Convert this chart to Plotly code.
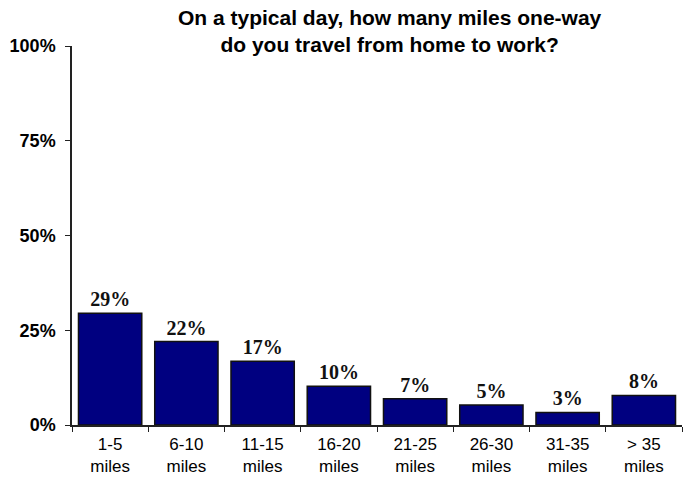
import plotly.graph_objects as go

categories = ["1-5<br>miles", "6-10<br>miles", "11-15<br>miles", "16-20<br>miles",
              "21-25<br>miles", "26-30<br>miles", "31-35<br>miles", "> 35<br>miles"]
values = [29.5, 22.0, 16.8, 10.2, 6.9, 5.3, 3.3, 7.8]
labels = ["<b>29%</b>", "<b>22%</b>", "<b>17%</b>", "<b>10%</b>", "<b>7%</b>", "<b>5%</b>", "<b>3%</b>", "<b>8%</b>"]
y_ticks = [0, 25, 50, 75, 100]
y_tick_text = ["0%", "25%", "50%", "75%", "100%"]

fig = go.Figure(go.Bar(
    x=categories, y=values, text=labels, textposition="outside",
    textfont=dict(family="Liberation Serif", size=20, color="#111"),
    marker=dict(color="#000080", line=dict(color="#111111", width=1.5)),
    cliponaxis=False,
))

fig.update_layout(
    width=686, height=483,
    margin=dict(l=72, r=4, t=46, b=58),
    plot_bgcolor="white", paper_bgcolor="white",
    bargap=0.17,
    showlegend=False,
    annotations=[dict(
        text="<b>On a typical day, how many miles one-way<br>do you travel from home to work?</b>",
        x=0.521, y=1.0, xref="paper", yref="paper", xanchor="center", yanchor="bottom",
        yshift=-12, showarrow=False,
        font=dict(family="Liberation Sans", size=21, color="black"),
    )],
)
fig.update_yaxes(
    range=[0, 100], tickvals=y_ticks, ticktext=y_tick_text,
    showgrid=False, zeroline=False, showline=True, linecolor="#222", linewidth=1.5,
    ticks="outside", ticklen=5, tickcolor="#222", ticklabelstandoff=6,
    tickfont=dict(family="Liberation Sans", size=18, color="black", weight="bold"),
)
fig.update_xaxes(
    showgrid=False, showline=True, linecolor="#222", linewidth=1.5,
    ticks="outside", ticklen=5, tickcolor="#222", tickson="boundaries",
    ticklabelstandoff=3,
    tickfont=dict(family="Liberation Sans", size=17, color="black"),
)

fig.write_html("out.html")
